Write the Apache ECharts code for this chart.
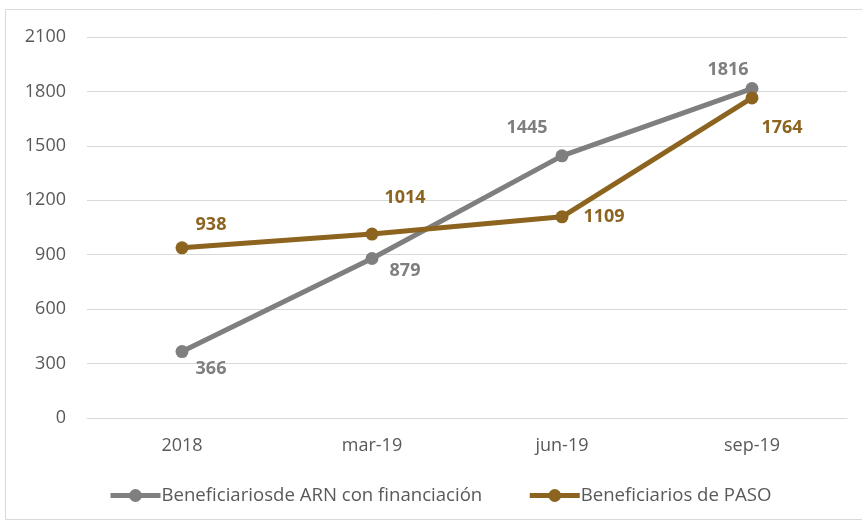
<!DOCTYPE html>
<html>
<head>
<meta charset="utf-8">
<style>
  html, body { margin: 0; padding: 0; background: #fff; }
  #chart { width: 862px; height: 523px; }
</style>
<script src="https://cdn.jsdelivr.net/npm/echarts@6/dist/echarts.min.js"></script>
</head>
<body>
<div id="chart"></div>
<script>
const categories = ["2018", "mar-19", "jun-19", "sep-19"];
const arnValues = [366, 879, 1445, 1816];
const pasoValues = [938, 1014, 1109, 1764];
const seriesNames = ["Beneficiariosde ARN con financiación", "Beneficiarios de PASO"];

const font = '"Open Sans", "Liberation Sans", sans-serif';
const gray = "#7f7f80";
const gold = "#8c6420";

// label offsets per point (dx, dy from the marker)
const arnOffsets = [[29, 17], [33, 12], [-35, -28], [-24, -19]];
const pasoOffsets = [[29, -23], [33, -36], [42, 0], [30, 30]];

function withLabels(values, offsets, color) {
  return values.map((v, i) => ({
    value: v,
    label: { show: true, position: "inside", offset: offsets[i], color: color,
      fontSize: 18, fontWeight: "bold", fontFamily: font }
  }));
}

const chart = echarts.init(document.getElementById("chart"));
chart.setOption({
  animation: false,
  graphic: [{
    type: "rect", silent: true, z: -10,
    shape: { x: 5.5, y: 9.5, width: 900, height: 510 },
    style: { fill: "none", stroke: "#d9d9d9", lineWidth: 1 }
  }],
  grid: { left: 87, right: 15, top: 37, bottom: 105, containLabel: false },
  legend: {
    top: 481, left: 103, itemGap: 45, itemWidth: 50, itemHeight: 16,
    lineStyle: { width: 5 },
    textStyle: { color: "#595959", fontSize: 18.6, fontFamily: font, padding: [0, 0, 0, -4] },
    data: seriesNames
  },
  xAxis: {
    type: "category", data: categories,
    axisLine: { show: true, lineStyle: { color: "#d9d9d9", width: 1 } },
    axisTick: { show: false },
    axisLabel: { color: "#595959", fontSize: 18, fontFamily: font, margin: 19 }
  },
  yAxis: {
    type: "value", min: 0, max: 2100, interval: 300,
    axisLine: { show: false }, axisTick: { show: false },
    splitLine: { lineStyle: { color: "#d9d9d9", width: 1 } },
    axisLabel: { color: "#595959", fontSize: 18, fontFamily: font, margin: 21,
      formatter: v => String(v) }
  },
  series: [
    {
      name: seriesNames[0], type: "line", data: withLabels(arnValues, arnOffsets, gray),
      symbol: "circle", symbolSize: 13,
      lineStyle: { color: gray, width: 5 }, itemStyle: { color: gray }
    },
    {
      name: seriesNames[1], type: "line", data: withLabels(pasoValues, pasoOffsets, gold),
      symbol: "circle", symbolSize: 13,
      lineStyle: { color: gold, width: 5 }, itemStyle: { color: gold }
    }
  ]
});
</script>
</body>
</html>
